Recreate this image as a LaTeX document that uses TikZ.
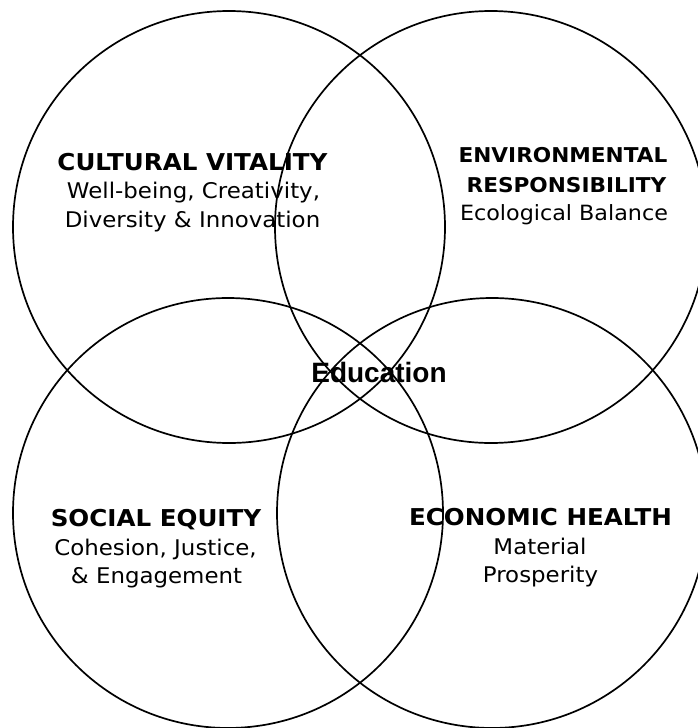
\documentclass[tikz,border=0pt]{standalone}
\usepackage{fontspec}
\setmainfont{DejaVu Sans}[FakeStretch=1.06]
\newfontfamily\edufont{Liberation Sans}
\begin{document}
\begin{tikzpicture}[x=1pt,y=-1pt,
  ring/.style={draw=black,line width=1.7pt},
  headA/.style={anchor=base,inner sep=0pt,font=\fontsize{23.2}{26}\selectfont\bfseries},
  headB/.style={anchor=base,inner sep=0pt,font=\fontsize{20.4}{24}\selectfont\bfseries},
  subline/.style={anchor=base,inner sep=0pt,font=\fontsize{21.6}{25}\selectfont},
  core/.style={anchor=base,inner sep=0pt,font=\edufont\fontsize{28}{32}\selectfont\bfseries}]
\useasboundingbox (0,0) rectangle (698,728);
\fill[white] (0,0) rectangle (698,728);
\clip (0,0) rectangle (698,728);

% four overlapping circles
\coordinate (ctl) at (229,227);
\coordinate (ctr) at (491,227);
\coordinate (cbl) at (228,513);
\coordinate (cbr) at (492,513);
\draw[ring] (ctl) circle[radius=216];
\draw[ring] (ctr) circle[radius=216];
\draw[ring] (cbl) circle[radius=215];
\draw[ring] (cbr) circle[radius=215];

% cultural
\node[headA] (cvT) at (192.5,170) {CULTURAL VITALITY};
\node[subline] (cv1) at (193.5,198) {Well-being, Creativity,};
\node[subline] (cv2) at (192.5,227) {Diversity \& Innovation};

% environmental
\node[headB] (enT) at (563,162) {ENVIRONMENTAL};
\node[headB] (en1) at (566.5,192) {RESPONSIBILITY};
\node[subline,font=\fontsize{21}{24}\selectfont] (en2) at (564,220) {Ecological Balance};

% social
\node[headA] (soT) at (156,526) {SOCIAL EQUITY};
\node[subline] (so1) at (155.5,555) {Cohesion, Justice,};
\node[subline] (so2) at (156.5,583) {\& Engagement};

% economic
\node[headA] (ecT) at (540.5,525) {ECONOMIC HEALTH};
\node[subline] (ec1) at (540,554) {Material};
\node[subline] (ec2) at (540.5,582) {Prosperity};

% centre
\node[core] (edu) at (379,382) {Education};
\end{tikzpicture}
\end{document}
